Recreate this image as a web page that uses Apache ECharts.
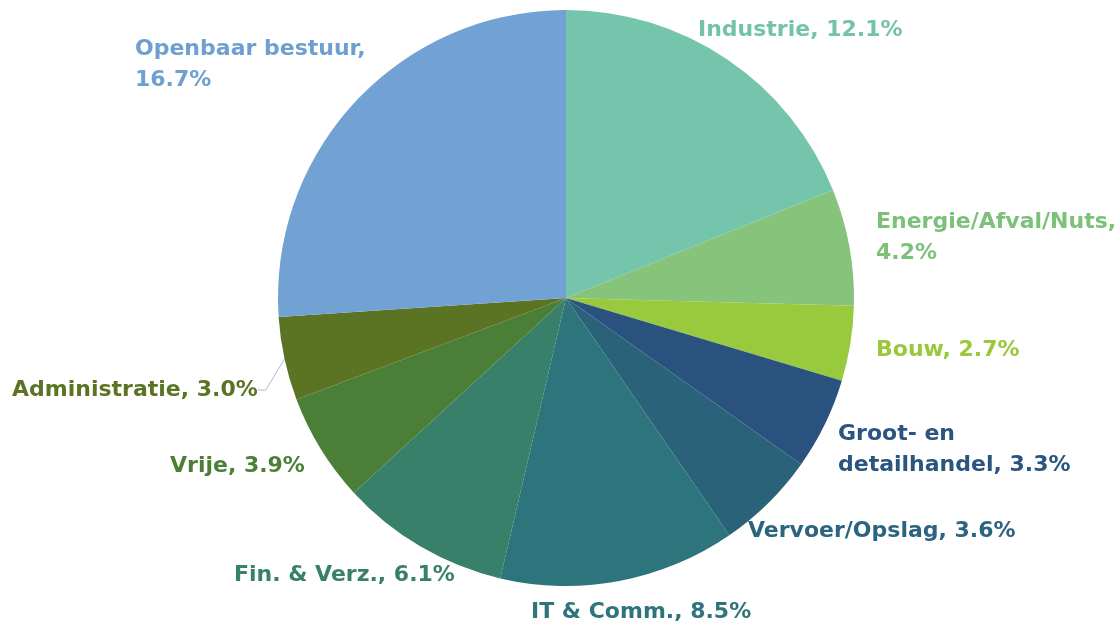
<!DOCTYPE html>
<html lang="nl">
<head>
    <meta charset="UTF-8">
    <title>Sectoren</title>
    <script src="https://cdn.jsdelivr.net/npm/echarts@6/dist/echarts.min.js"></script>
    <style>
        body { margin: 0; background: #fff; }
        #main { width: 1120px; height: 630px; }
    </style>
</head>
<body>
<div id="main"></div>
<script type="text/javascript">
    // sectoren en aandelen (%)
    const sectors = ['Industrie', 'Energie/Afval/Nuts', 'Bouw', 'Groot- en\ndetailhandel', 'Vervoer/Opslag',
        'IT & Comm.', 'Fin. & Verz.', 'Vrije', 'Administratie', 'Openbaar bestuur']
    const shares = [12.1, 4.2, 2.7, 3.3, 3.6, 8.5, 6.1, 3.9, 3.0, 16.7]
    const sliceColors = ['#74c5ab', '#86c47c', '#99c93d', '#29527e', '#2a6279',
        '#2e747c', '#38806a', '#4b7f37', '#5a7423', '#71a2d3']
    const labelColors = ['#74c3a8', '#7cc07a', '#9ac73c', '#2a5580', '#2b6480',
        '#2e747b', '#37806a', '#4b7f36', '#5a7424', '#6e9fd0']
    const newlineAfterComma = [false, true, false, false, false, false, false, false, false, true]

    // linker rand en verticaal midden van elk label
    const labelLeft = [698, 876, 876, 838, 748, 531, 234, 170, 12, 135]
    const labelMiddle = [30, 238, 350, 450, 531, 612, 575, 466, 390, 65]

    let chart = echarts.init(document.getElementById('main'));

    let data = sectors.map(function (name, i) {
        return {
            name: name,
            value: shares[i],
            itemStyle: {color: sliceColors[i]},
            label: {color: labelColors[i]},
            labelLine: {show: i === 8}
        }
    });

    let option = {
        animation: false,
        series: [{
            type: 'pie',
            center: ['566px', '298px'],
            radius: 288,
            startAngle: 90,
            clockwise: true,
            data: data,
            label: {
                show: true,
                position: 'outside',
                overflow: 'none',
                fontFamily: 'DejaVu Sans',
                fontWeight: 'bold',
                fontSize: 22,
                lineHeight: 31,
                formatter: function (p) {
                    let sep = newlineAfterComma[p.dataIndex] ? ',\n' : ', '
                    return p.name + sep + p.value.toFixed(1) + '%'
                }
            },
            labelLine: {
                length: 8,
                length2: 8,
                lineStyle: {color: '#a9bfd6', width: 1}
            },
            labelLayout: function (params) {
                let i = params.dataIndex
                return {
                    x: labelLeft[i],
                    y: labelMiddle[i],
                    align: 'left',
                    verticalAlign: 'middle'
                }
            }
        }]
    };

    chart.setOption(option);
</script>
</body>
</html>
